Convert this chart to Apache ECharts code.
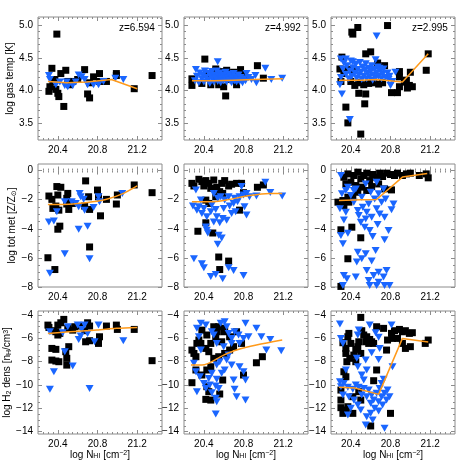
<!DOCTYPE html>
<html>
<head>
<meta charset="utf-8">
<script src="https://cdn.jsdelivr.net/npm/echarts@6/dist/echarts.min.js"></script>
<style>
  html, body { margin: 0; padding: 0; background: #fff; }
  #chart { width: 472px; height: 472px; }
</style>
</head>
<body>
<div id="chart"></div>
<script>
// tick labels
const xTicks = [20.4, 20.8, 21.2];
const tempTicks = [3.5, 4.0, 4.5, 5.0];
const metTicks = [-8, -6, -4, -2, 0];
const densTicks = [-14, -12, -10, -8, -6, -4];
const zLabels = ['z=6.594', 'z=4.992', 'z=2.995'];

// row 1: log gas temp
const p1Black = [[20.39,4.86],[20.34,4.34],[20.31,3.99],[20.32,4.06],[20.35,4.13],[20.37,4.17],[20.38,4.02],[20.40,3.96],[20.41,3.91],[20.43,4.26],[20.46,3.76],[20.48,4.31],[20.50,4.14],[20.52,4.09],[20.55,4.14],[20.60,4.17],[20.67,4.32],[20.70,3.95],[20.72,3.89],[20.72,4.12],[20.76,4.21],[20.82,4.26],[20.82,4.14],[20.89,4.14],[20.99,4.23],[20.99,4.26],[21.17,4.03],[21.35,4.23]];
const p1Blue = [[20.31,4.23],[20.32,4.17],[20.38,4.09],[20.42,4.13],[20.47,4.08],[20.50,4.06],[20.55,4.08],[20.61,4.24],[20.64,4.21],[20.67,4.17],[20.70,4.09],[20.76,4.09],[20.81,4.09],[20.86,4.14],[20.98,4.19],[21.06,4.17],[20.58,4.13],[20.49,4.13]];
const p1Line = [[20.30,4.14],[20.49,4.12],[20.69,4.13],[20.94,4.17],[21.20,4.03]];

const p2Black = [[20.41,4.48],[20.62,3.92],[20.60,4.06],[20.94,4.38],[21.00,4.19],[20.77,4.32],[20.28,4.08],[20.28,4.18],[20.52,4.33],[20.55,4.09],[20.73,4.09],[20.38,4.11],[20.47,4.09],[20.66,4.17],[20.70,4.28],[20.43,4.26],[20.58,4.29],[20.63,4.31],[20.80,4.24]];
const p2Blue = [[20.54,4.44],[20.32,4.32],[20.93,4.12],[20.92,4.23],[21.02,4.34],[21.08,4.17],[21.19,4.19],[20.83,4.26],
  [20.31,4.15],[20.33,4.22],[20.35,4.12],[20.36,4.27],[20.38,4.18],[20.39,4.24],[20.40,4.13],[20.41,4.30],[20.42,4.20],[20.44,4.16],[20.45,4.26],[20.46,4.11],[20.47,4.22],[20.48,4.29],[20.49,4.17],[20.50,4.13],[20.51,4.24],[20.52,4.19],[20.53,4.30],[20.54,4.14],[20.55,4.22],[20.56,4.27],[20.57,4.12],[20.58,4.18],[20.59,4.24],[20.60,4.15],[20.61,4.21],[20.62,4.28],[20.63,4.13],[20.64,4.19],[20.65,4.25],[20.66,4.16],[20.67,4.22],[20.68,4.12],[20.69,4.19],[20.70,4.26],[20.71,4.15],[20.72,4.21],[20.73,4.13],[20.74,4.18],[20.75,4.24],[20.76,4.14],[20.77,4.20],[20.78,4.16],[20.79,4.12],[20.80,4.18],[20.82,4.15],[20.85,4.20],[20.88,4.17]];
const p2Line = [[20.28,4.15],[20.50,4.15],[20.70,4.16],[20.90,4.17],[21.20,4.18]];

const p3Black = [[20.42,4.86],[20.41,4.89],[20.47,4.96],[20.77,4.99],[20.35,3.75],[20.37,3.51],[20.50,3.34],[20.48,3.96],[20.55,3.95],[20.54,3.80],[20.55,4.56],[20.60,4.59],[20.29,4.33],[20.31,4.51],[20.33,4.26],[20.30,4.14],[20.40,4.14],[20.44,4.08],[20.48,4.12],[20.53,4.09],[20.58,4.11],[20.63,4.12],[20.68,4.10],[20.72,4.12],[20.67,4.42],[20.74,4.38],[20.81,3.97],[20.87,3.97],[20.89,4.29],[20.89,4.21],[20.94,4.13],[20.96,4.16],[20.99,4.08],[21.00,4.28],[20.97,4.04],[21.02,4.06],[20.89,4.06],[21.16,4.31],[21.18,4.56],[20.43,4.31],[20.37,4.32]];
const p3Blue = [[20.66,4.83],[20.31,3.95],[20.39,3.56],[20.30,4.48],[20.35,4.48],[20.42,4.44],[20.29,4.09],[20.85,4.28],[20.80,4.08],[20.78,4.17],[20.69,4.34],[20.65,4.47],
  [20.30,4.20],[20.32,4.33],[20.33,4.42],[20.35,4.25],[20.36,4.38],[20.38,4.18],[20.39,4.30],[20.40,4.45],[20.41,4.22],[20.42,4.35],[20.44,4.27],[20.45,4.40],[20.46,4.19],[20.47,4.32],[20.48,4.24],[20.49,4.43],[20.50,4.28],[20.51,4.17],[20.52,4.36],[20.53,4.22],[20.54,4.31],[20.55,4.41],[20.56,4.18],[20.57,4.26],[20.58,4.34],[20.59,4.21],[20.60,4.29],[20.61,4.38],[20.62,4.16],[20.63,4.24],[20.64,4.32],[20.65,4.19],[20.66,4.27],[20.67,4.36],[20.68,4.22],[20.70,4.30],[20.71,4.18],[20.72,4.25],[20.73,4.33],[20.75,4.20],[20.77,4.27],[20.79,4.22],[20.82,4.14]];
const p3Line = [[20.28,4.16],[20.50,4.16],[20.66,4.17],[20.92,4.13],[21.18,4.56]];

// row 2: log total metallicity
const p4Black = [[20.31,-1.75],[20.34,-1.98],[20.35,-2.60],[20.39,-1.10],[20.43,-1.15],[20.40,-1.68],[20.38,-2.44],[20.41,-2.72],[20.42,-3.82],[20.40,-4.03],[20.30,-5.99],[20.37,-6.80],[20.49,-1.91],[20.50,-1.57],[20.49,-2.30],[20.51,-2.67],[20.55,-2.26],[20.68,-0.71],[20.71,-1.80],[20.67,-2.44],[20.72,-2.67],[20.72,-5.25],[20.80,-1.34],[20.83,-3.11],[20.89,-1.98],[20.99,-2.30],[21.00,-1.68],[21.17,-0.99],[21.35,-1.52],[20.81,-1.80]];
const p4Blue = [[20.31,-3.53],[20.36,-3.46],[20.39,-2.83],[20.47,-2.14],[20.47,-5.71],[20.32,-7.05],[20.54,-2.14],[20.58,-2.26],[20.62,-1.57],[20.61,-2.49],[20.61,-4.03],[20.66,-1.98],[20.67,-2.72],[20.70,-3.82],[20.72,-6.06],[20.76,-2.53],[20.81,-1.80],[20.82,-2.14],[21.05,-1.57],[20.63,-1.80]];
const p4Line = [[20.30,-2.33],[20.45,-2.33],[20.60,-2.27],[20.75,-2.15],[20.90,-1.95],[21.05,-1.60],[21.20,-1.05]];

const p5Black = [[20.28,-0.88],[20.30,-1.06],[20.35,-0.60],[20.38,-0.76],[20.42,-0.69],[20.40,-1.06],[20.45,-0.88],[20.47,-1.22],[20.50,-0.65],[20.53,-1.15],[20.56,-1.45],[20.58,-0.88],[20.61,-0.69],[20.65,-1.06],[20.68,-0.94],[20.73,-0.88],[20.78,-0.88],[20.80,-1.52],[20.76,-2.72],[20.94,-1.15],[21.00,-0.99],[20.45,-2.26],[20.42,-3.59],[20.34,-4.17],[20.49,-4.29],[20.55,-5.94],[20.65,-6.22],[20.56,-6.80],[20.42,-2.03],[20.52,-1.80],[20.59,-1.57]];
const p5Blue = [[20.32,-1.34],[20.29,-2.44],[20.33,-2.72],[20.37,-2.03],[20.38,-2.95],[20.40,-2.60],[20.42,-3.87],[20.43,-4.10],[20.44,-4.29],[20.47,-2.83],[20.48,-2.37],[20.50,-1.57],[20.52,-2.67],[20.53,-3.18],[20.54,-1.91],[20.55,-4.45],[20.56,-3.59],[20.54,-5.07],[20.58,-4.63],[20.59,-3.29],[20.60,-2.60],[20.61,-2.03],[20.65,-1.80],[20.66,-2.44],[20.68,-2.95],[20.70,-2.26],[20.71,-1.91],[20.74,-2.14],[20.76,-1.80],[20.78,-1.10],[20.80,-1.68],[20.81,-2.49],[20.83,-3.06],[20.83,-1.57],[20.86,-1.80],[20.93,-1.75],[21.02,-0.81],[21.07,-1.50],[21.19,-1.75],[20.30,-6.06],[20.38,-6.41],[20.40,-6.68],[20.47,-7.28],[20.52,-7.14],[20.59,-7.44],[20.65,-6.68],[20.70,-6.87],[20.80,-7.21],[20.35,-2.49],[20.43,-3.18],[20.63,-3.41],[20.50,-3.53],[20.57,-1.80],[20.72,-2.83]];
const p5Line = [[20.28,-2.14],[20.50,-2.14],[20.66,-1.98],[20.83,-1.75],[21.06,-1.57],[21.19,-1.57]];

const p6Black = [[20.33,-0.46],[20.37,-0.23],[20.40,-0.80],[20.43,-0.34],[20.47,-0.11],[20.50,-0.57],[20.53,-0.34],[20.56,-0.18],[20.59,-0.69],[20.62,-0.27],[20.66,-0.46],[20.69,-0.18],[20.72,-0.41],[20.76,-0.18],[20.80,-0.27],[20.84,-0.34],[20.87,-0.18],[20.92,-0.34],[20.96,-0.23],[21.00,-0.18],[21.09,-0.34],[21.16,-0.23],[21.18,-0.50],[20.35,-0.92],[20.45,-1.03],[20.51,-1.14],[20.61,-1.10],[20.68,-0.92],[20.81,-1.33],[20.27,-2.17],[20.32,-2.06],[20.38,-2.17],[20.33,-2.40],[20.37,-1.83],[20.42,-1.72],[20.30,-4.07],[20.41,-3.89],[20.50,-4.62],[20.37,-6.06],[20.30,-7.96],[20.47,-1.49],[20.56,-1.37],[20.74,-1.26]];
const p6Blue = [[20.30,-0.34],[20.29,-2.63],[20.31,-1.60],[20.35,-1.37],[20.33,-3.39],[20.30,-4.46],[20.32,-5.03],[20.37,-4.30],[20.35,-2.86],[20.40,-1.72],[20.43,-2.17],[20.45,-1.26],[20.47,-2.75],[20.48,-3.09],[20.50,-3.55],[20.51,-1.83],[20.52,-2.52],[20.54,-3.89],[20.55,-3.32],[20.56,-2.86],[20.58,-2.29],[20.59,-4.12],[20.60,-1.49],[20.61,-3.20],[20.62,-4.53],[20.64,-1.95],[20.66,-2.63],[20.67,-3.71],[20.68,-1.60],[20.69,-2.98],[20.71,-2.17],[20.73,-1.26],[20.74,-3.20],[20.75,-1.95],[20.78,-4.12],[20.81,-2.70],[20.83,-2.29],[20.74,-4.76],[20.47,-5.61],[20.51,-6.06],[20.55,-5.72],[20.61,-6.22],[20.65,-5.49],[20.46,-6.29],[20.33,-7.21],[20.36,-7.44],[20.45,-7.32],[20.56,-6.86],[20.58,-7.55],[20.63,-7.21],[20.68,-6.98],[20.73,-7.32],[20.76,-6.86],[20.79,-7.89],[20.32,-7.89],[20.59,-7.89],[20.66,-7.89],[20.74,-7.89],[20.68,-7.67],[20.43,-1.37],[20.55,-0.92],[20.66,-0.80],[20.37,-1.14]];
const p6Line = [[20.28,-2.06],[20.50,-2.00],[20.66,-1.99],[20.92,-0.45],[21.17,-0.20]];

// row 3: log H2 density
const p7Black = [[20.30,-4.86],[20.31,-5.06],[20.36,-5.34],[20.38,-5.43],[20.40,-4.86],[20.43,-4.66],[20.46,-4.37],[20.42,-5.57],[20.40,-5.71],[20.34,-6.86],[20.38,-6.94],[20.34,-7.86],[20.38,-7.94],[20.41,-8.00],[20.49,-7.71],[20.49,-8.29],[20.51,-6.71],[20.48,-7.14],[20.55,-5.29],[20.62,-4.94],[20.67,-5.34],[20.70,-4.66],[20.72,-4.94],[20.68,-6.29],[20.72,-6.20],[20.81,-6.43],[20.82,-5.86],[20.89,-4.94],[20.99,-4.86],[21.00,-5.23],[21.17,-5.23],[21.35,-7.91],[20.57,-5.00],[20.50,-5.14]];
const p7Blue = [[20.32,-5.43],[20.32,-10.37],[20.36,-8.86],[20.47,-7.14],[20.50,-5.00],[20.55,-8.37],[20.60,-4.86],[20.63,-5.80],[20.64,-5.23],[20.67,-4.86],[20.70,-5.57],[20.72,-10.29],[20.77,-6.29],[20.81,-4.86],[21.06,-6.20],[20.61,-6.09],[20.45,-5.51]];
const p7Line = [[20.30,-5.57],[20.52,-5.43],[20.79,-5.29],[20.99,-5.14],[21.20,-5.06]];

const p8Black = [[20.28,-7.00],[20.30,-7.29],[20.32,-7.57],[20.33,-6.43],[20.37,-6.43],[20.32,-8.71],[20.28,-9.80],[20.38,-5.29],[20.43,-5.71],[20.42,-6.86],[20.45,-7.14],[20.47,-6.43],[20.50,-5.00],[20.52,-5.86],[20.53,-5.43],[20.55,-5.00],[20.58,-6.29],[20.60,-5.43],[20.61,-5.14],[20.55,-7.57],[20.50,-7.71],[20.47,-8.43],[20.43,-8.71],[20.38,-9.14],[20.43,-10.14],[20.45,-10.57],[20.42,-11.23],[20.47,-11.29],[20.56,-10.77],[20.59,-9.57],[20.61,-7.29],[20.66,-7.00],[20.70,-6.71],[20.73,-5.43],[20.78,-6.43],[20.80,-9.14],[20.93,-8.09],[20.99,-7.57],[20.35,-6.14],[20.66,-5.86]];
const p8Blue = [[20.33,-5.14],[20.35,-5.86],[20.37,-4.71],[20.42,-4.86],[20.48,-5.43],[20.50,-5.71],[20.57,-4.71],[20.61,-4.57],[20.63,-5.00],[20.65,-5.57],[20.68,-6.00],[20.71,-5.43],[20.75,-5.71],[20.76,-6.43],[20.80,-6.00],[20.82,-4.71],[20.85,-5.86],[20.93,-5.14],[20.98,-5.86],[21.03,-7.00],[21.07,-6.09],[21.18,-7.06],[20.30,-8.14],[20.32,-8.86],[20.33,-10.57],[20.36,-9.29],[20.40,-9.86],[20.42,-10.29],[20.46,-10.00],[20.48,-10.66],[20.52,-10.09],[20.53,-9.51],[20.55,-10.29],[20.52,-11.14],[20.53,-11.43],[20.52,-12.49],[20.58,-9.00],[20.61,-8.71],[20.63,-7.86],[20.65,-7.43],[20.68,-8.29],[20.70,-9.57],[20.71,-10.37],[20.73,-11.00],[20.76,-8.43],[20.80,-8.86],[20.82,-9.57],[20.82,-11.29],[20.53,-8.29],[20.56,-8.00],[20.48,-9.00],[20.45,-9.43],[20.37,-7.00],[20.60,-6.71],[20.53,-6.43],[20.68,-6.43]];
const p8Line = [[20.27,-8.29],[20.38,-8.29],[20.60,-7.43],[20.73,-7.00],[20.93,-6.57],[21.19,-6.14]];

const p9Black = [[20.81,-5.57],[20.84,-5.34],[20.89,-5.23],[20.92,-5.43],[20.95,-5.34],[20.99,-5.57],[21.02,-5.51],[20.87,-6.00],[20.92,-6.43],[20.95,-6.86],[21.00,-6.71],[20.77,-6.14],[20.76,-7.00],[20.82,-6.00],[20.73,-5.14],[21.15,-6.43],[21.18,-6.14],[20.50,-4.20],[20.38,-5.57],[20.37,-5.86],[20.32,-6.37],[20.40,-6.43],[20.35,-6.86],[20.45,-6.94],[20.47,-6.71],[20.50,-7.29],[20.43,-7.43],[20.35,-7.29],[20.39,-7.71],[20.36,-8.00],[20.45,-8.00],[20.48,-6.29],[20.53,-5.71],[20.56,-5.86],[20.59,-6.09],[20.58,-6.43],[20.61,-6.29],[20.55,-6.29],[20.66,-5.00],[20.51,-5.34],[20.63,-6.43],[20.66,-8.71],[20.33,-8.86],[20.35,-9.29],[20.30,-10.43],[20.30,-11.29],[20.30,-11.94],[20.35,-12.14],[20.32,-12.43],[20.42,-12.43],[20.37,-11.86],[20.48,-10.57],[20.50,-11.29],[20.60,-13.51],[20.80,-12.43],[20.63,-9.63],[20.42,-11.00]];
const p9Blue = [[20.29,-4.77],[20.30,-6.00],[20.32,-6.43],[20.35,-8.71],[20.47,-5.71],[20.48,-5.29],[20.59,-4.86],[20.65,-5.51],[20.68,-5.91],[20.68,-7.80],[20.61,-7.23],[20.69,-6.86],[20.81,-4.86],[20.82,-8.43],[20.47,-8.43],[20.46,-7.71],[20.51,-9.14],[20.56,-8.71],[20.73,-9.51],[20.55,-7.86],
  [20.29,-9.71],[20.30,-10.14],[20.33,-9.86],[20.37,-10.20],[20.32,-10.86],[20.38,-11.00],[20.42,-10.37],[20.45,-10.00],[20.48,-10.20],[20.43,-11.29],[20.47,-11.71],[20.37,-12.57],[20.51,-10.86],[20.53,-10.29],[20.56,-11.00],[20.58,-10.43],[20.60,-11.57],[20.61,-10.86],[20.63,-11.29],[20.64,-12.00],[20.66,-10.71],[20.68,-11.43],[20.69,-10.29],[20.71,-11.00],[20.72,-11.71],[20.74,-10.71],[20.76,-11.29],[20.77,-10.43],[20.79,-11.00],[20.56,-12.71],[20.60,-12.43],[20.68,-12.23],[20.74,-13.71],[20.55,-13.43],[20.62,-13.00],[20.50,-12.14],[20.53,-9.57],[20.71,-9.86],[20.40,-12.00]];
const p9Line = [[20.28,-10.20],[20.44,-10.25],[20.68,-10.80],[20.92,-6.00],[21.18,-6.30]];

const steps = (a, b, s) => {
  const out = [];
  for (let v = a; v <= b + 1e-9; v += s) out.push(Math.round(v * 1000) / 1000);
  return out;
};

const FONT = "'Liberation Sans', Arial, sans-serif";
const BLACK = '#000000';
const BLUE = '#1a66ff';
const ORANGE = '#ff9a1a';
const FRAME = '#8c8c8c';

const colLeft = [38, 184, 331];
const rowTop = [17, 164, 311];
const PW = 124, PH = 123;

const minus = v => String(v).replace('-', '\u2212');
const rich = {
  s: { fontSize: 7, lineHeight: 7, verticalAlign: 'bottom', fontFamily: FONT, color: '#000' },
  p: { fontSize: 7, lineHeight: 7, verticalAlign: 'top', fontFamily: FONT, color: '#000' },
  sun: { fontSize: 7, lineHeight: 7, verticalAlign: 'bottom', fontFamily: 'DejaVu Sans', color: '#000' }
};
const rows = [
  { min: 3.25, max: 5.12, major: tempTicks, minor: steps(3.3, 5.1, 0.1), fmt: v => v.toFixed(1),
    name: 'log gas temp [K]' },
  { min: -8, max: 0.45, major: metTicks, minor: steps(-7.5, 0, 0.5), fmt: minus,
    name: 'log tot met [Z/Z{sun|\u2299}]' },
  { min: -14.2, max: -3.65, major: densTicks, minor: steps(-14, -4, 0.5), fmt: minus,
    name: 'log H{s|2} dens [n{s|H}/cm{p|3}]' }
];
const xMin = 20.2, xMax = 21.45;
const xMinor = steps(20.25, 21.4, 0.05);

const panels = [
  [p1Black, p1Blue, p1Line, false], [p2Black, p2Blue, p2Line, false], [p3Black, p3Blue, p3Line, false],
  [p4Black, p4Blue, p4Line, 0.3], [p5Black, p5Blue, p5Line, 0.3], [p6Black, p6Blue, p6Line, false],
  [p7Black, p7Blue, p7Line, 0.3], [p8Black, p8Blue, p8Line, 0.3], [p9Black, p9Blue, p9Line, false]
];

const grid = [], xAxis = [], yAxis = [], series = [], graphic = [];

const tickAxis = (base, pos, vals, len) => Object.assign({}, base, {
  position: pos,
  axisLine: { show: false },
  splitLine: { show: false },
  axisTick: { show: true, inside: true, length: len, customValues: vals, lineStyle: { color: FRAME, width: 1 } },
  axisLabel: { show: false }
});

panels.forEach(([black, blue, line, smooth], i) => {
  const r = Math.floor(i / 3), c = i % 3;
  const R = rows[r];
  grid.push({ left: colLeft[c], top: rowTop[r], width: PW, height: PH, show: true,
    borderColor: FRAME, borderWidth: 1, backgroundColor: 'transparent' });

  const xb = { type: 'value', gridIndex: i, min: xMin, max: xMax };
  const xMain = tickAxis(xb, 'bottom', xTicks, 4);
  xMain.axisLabel = { show: true, customValues: xTicks, margin: 5, fontSize: 10, color: '#000',
    fontFamily: FONT, formatter: v => v.toFixed(1) };
  if (r === 2) {
    xMain.name = 'log N{s|HI} [cm{p|\u22122}]';
    xMain.nameLocation = 'middle';
    xMain.nameGap = 15;
    xMain.nameTextStyle = { fontSize: 10, color: '#000', fontFamily: FONT, rich: rich };
  }
  xAxis.push(xMain, tickAxis(xb, 'bottom', xMinor, 2), tickAxis(xb, 'top', xTicks, 4), tickAxis(xb, 'top', xMinor, 2));

  const yb = { type: 'value', gridIndex: i, min: R.min, max: R.max };
  const yMain = tickAxis(yb, 'left', R.major, 4);
  yMain.axisLabel = { show: true, customValues: R.major, margin: 5, fontSize: 10, color: '#000',
    fontFamily: FONT, formatter: R.fmt };
  if (c === 0) {
    yMain.name = R.name;
    yMain.nameLocation = 'middle';
    yMain.nameRotate = 90;
    yMain.nameGap = 17;
    yMain.nameTextStyle = { fontSize: 10, color: '#000', fontFamily: FONT, rich: rich };
  }
  yAxis.push(yMain, tickAxis(yb, 'left', R.minor, 2), tickAxis(yb, 'right', R.major, 4), tickAxis(yb, 'right', R.minor, 2));

  const ax = { xAxisIndex: i * 4, yAxisIndex: i * 4 };
  series.push(Object.assign({ type: 'scatter', data: black, symbol: 'rect', symbolSize: 7,
    itemStyle: { color: BLACK, opacity: 1 }, z: 2, silent: true }, ax));
  series.push(Object.assign({ type: 'scatter', data: blue, symbol: 'triangle', symbolRotate: 180,
    symbolSize: [8, 7], itemStyle: { color: BLUE, opacity: 1 }, z: 3, silent: true }, ax));
  series.push(Object.assign({ type: 'line', data: line, smooth: smooth, showSymbol: false,
    lineStyle: { color: ORANGE, width: 1.5 }, z: 4, silent: true }, ax));

  if (r === 0) {
    graphic.push({ type: 'text', left: colLeft[c] + PW - 5 - 38, top: rowTop[r] + 6,
      style: { text: zLabels[c], fontSize: 10, fill: '#000', font: '10px ' + FONT, width: 38, align: 'right' } });
  }
});

const chart = echarts.init(document.getElementById('chart'));
chart.setOption({
  animation: false,
  backgroundColor: '#fff',
  grid, xAxis, yAxis, series, graphic
});
</script>
</body>
</html>
